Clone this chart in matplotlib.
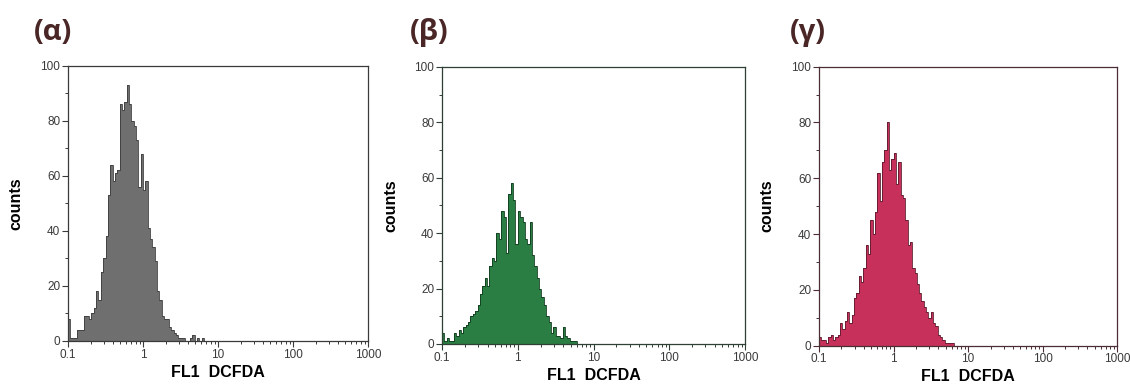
import numpy as np
import matplotlib
matplotlib.use("Agg")
import matplotlib.pyplot as plt
from matplotlib.ticker import FixedLocator, NullFormatter, LogLocator

# Histogram channel counts, 32 channels per decade starting at FL1 = 0.1
counts_alpha = [8, 1, 1, 1, 4, 4, 4, 9, 9, 8, 10, 12, 18, 15, 25, 30, 38, 53, 64, 58,
                61, 62, 86, 84, 87, 93, 86, 80, 78, 73, 56, 68, 55, 58, 41, 37, 34, 29, 18, 15,
                9, 8, 8, 5, 4, 3, 2, 1, 1, 1, 0, 0, 1, 2, 0, 1, 0, 1]
counts_beta = [4, 1, 2, 1, 1, 4, 3, 5, 4, 6, 7, 8, 10, 11, 12, 14, 18, 21, 24, 21,
               28, 31, 30, 40, 38, 48, 46, 33, 54, 58, 52, 36, 48, 46, 44, 38, 36, 44, 32, 28,
               24, 20, 17, 14, 10, 8, 4, 6, 3, 3, 2, 6, 3, 2, 1, 1, 1, 0]
counts_gamma = [3, 2, 2, 1, 3, 4, 2, 3, 4, 8, 6, 9, 12, 8, 11, 17, 19, 25, 23, 28,
                36, 33, 45, 40, 48, 62, 52, 66, 70, 80, 63, 67, 69, 58, 66, 54, 53, 45, 36, 37,
                28, 26, 22, 19, 16, 14, 12, 10, 12, 8, 7, 4, 3, 2, 1, 1, 1, 1]

panel_labels = ["(α)", "(β)", "(γ)"]
x_ticks = [0.1, 1, 10, 100, 1000]
x_tick_labels = ["0.1", "1", "10", "100", "1000"]
y_ticks = [0, 20, 40, 60, 80, 100]
x_label = "FL1  DCFDA"
y_label = "counts"

channels_per_decade = 32
edges = np.logspace(-1, 3, 4 * channels_per_decade + 1)

fill_colors = ["#6f6f6f", "#2a7d43", "#c6305a"]
edge_colors = ["#3c3c3c", "#0f3a1c", "#5c1a2c"]
spine_colors = ["#3a3a3a", "#2e3f33", "#4a2e33"]

# axes rectangles in figure fractions
rects = [
    [0.0602, 0.1143, 0.2655, 0.7143],
    [0.3912, 0.1065, 0.2681, 0.7195],
    [0.7248, 0.1021, 0.2638, 0.7247],
]
label_x = [0.030, 0.363, 0.699]

fig = plt.figure(figsize=(11.3, 3.85), dpi=100)
series = [counts_alpha, counts_beta, counts_gamma]

for i, vals in enumerate(series):
    ax = fig.add_axes(rects[i])
    full = np.zeros(len(edges) - 1)
    full[:len(vals)] = vals
    ax.stairs(full, edges, fill=True, color=fill_colors[i], lw=0)
    ax.stairs(full, edges, color=edge_colors[i], lw=0.6)
    ax.set_xscale("log")
    ax.set_xlim(0.1, 1000)
    ax.set_ylim(0, 100)

    ax.xaxis.set_major_locator(FixedLocator(x_ticks))
    ax.set_xticklabels(x_tick_labels)
    ax.xaxis.set_minor_locator(LogLocator(base=10, subs=np.arange(2, 10)))
    ax.xaxis.set_minor_formatter(NullFormatter())
    ax.yaxis.set_major_locator(FixedLocator(y_ticks))
    ax.yaxis.set_minor_locator(FixedLocator([10, 30, 50, 70, 90]))

    for sp in ax.spines.values():
        sp.set_color(spine_colors[i])
        sp.set_linewidth(0.9)
    ax.tick_params(which="major", length=4, width=0.8, color=spine_colors[i],
                   labelsize=8.5, labelcolor="#3a3a3a", pad=1.5)
    ax.tick_params(which="minor", length=2.5, width=0.7, color=spine_colors[i])
    for lab in ax.get_xticklabels() + ax.get_yticklabels():
        lab.set_family("Liberation Sans")

    ax.set_xlabel(x_label, fontsize=11.5, fontweight="bold",
                  family="Liberation Sans", labelpad=3)
    ax.set_ylabel(y_label, fontsize=11.5, fontweight="bold",
                  family="Liberation Sans", labelpad=12)

    fig.text(label_x[i], 0.915, panel_labels[i], fontsize=21, fontweight="bold",
             color="#4a2626", family="Open Sans", ha="left", va="center")

fig.savefig("out.png", dpi=100)
